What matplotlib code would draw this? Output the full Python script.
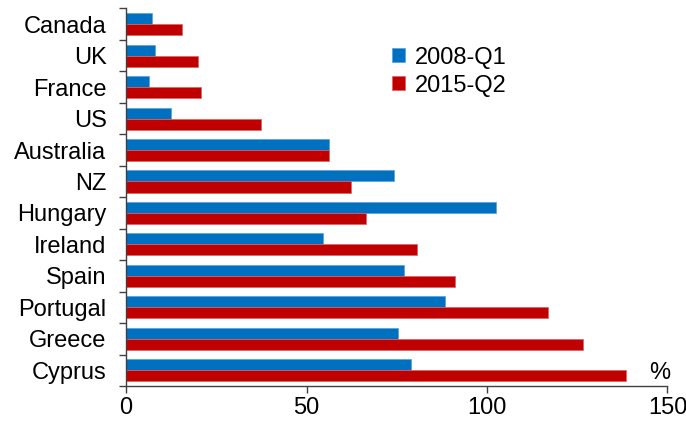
import numpy as np
import matplotlib.pyplot as plt

plt.rcParams['font.family'] = ['Liberation Sans', 'DejaVu Sans']

# データ（上から順）
countries = ['Canada', 'UK', 'France', 'US', 'Australia', 'NZ', 'Hungary',
             'Ireland', 'Spain', 'Portugal', 'Greece', 'Cyprus']
q2008 = [7.3, 8.1, 6.3, 12.5, 56.2, 74.3, 102.6, 54.5, 77.1, 88.5, 75.4, 79.0]
q2015 = [15.5, 20.0, 20.7, 37.4, 56.3, 62.3, 66.5, 80.5, 91.1, 116.9, 126.6, 138.4]
labels = ['2008-Q1', '2015-Q2']
xticks = [0, 50, 100, 150]

blue = '#0070C0'
red = '#C00000'
axis_col = '#404040'
fs = 17

fig = plt.figure(figsize=(6.86, 4.23), dpi=100)
ax = fig.add_axes([0.1837, 0.0875, 0.7893, 0.8925])

y = np.arange(len(countries))
h = 0.35
ax.barh(y - h / 2, q2008, height=h, color=blue, edgecolor='#5aa0d8',
        linewidth=0.5, label=labels[0])
ax.barh(y + h / 2, q2015, height=h, color=red, edgecolor='#e06060',
        linewidth=0.5, label=labels[1])

ax.set_ylim(len(countries) - 0.5, -0.5)
ax.set_xlim(0, 150)
ax.set_xticks(xticks)
ax.set_yticks(y)
ax.set_yticklabels(countries)
ax.set_yticks(np.arange(len(countries) + 1) - 0.5, minor=True)

ax.tick_params(axis='y', which='major', length=0, pad=14, labelsize=fs)
ax.tick_params(axis='y', which='minor', length=5, color=axis_col, width=1)
ax.tick_params(axis='x', length=5, color=axis_col, width=1, labelsize=fs, pad=3)

for s in ['top', 'right']:
    ax.spines[s].set_visible(False)
for s in ['left', 'bottom']:
    ax.spines[s].set_color(axis_col)
    ax.spines[s].set_linewidth(1)

ax.text(0.985, 0.005, '%', transform=ax.transAxes, fontsize=fs,
        ha='center', va='bottom')

ax.legend(loc='upper left', bbox_to_anchor=(0.47, 0.93), frameon=False,
          fontsize=fs, handlelength=0.55, handleheight=0.55, handletextpad=0.4,
          labelspacing=0.25, borderpad=0)

fig.savefig('out.png', dpi=100)
